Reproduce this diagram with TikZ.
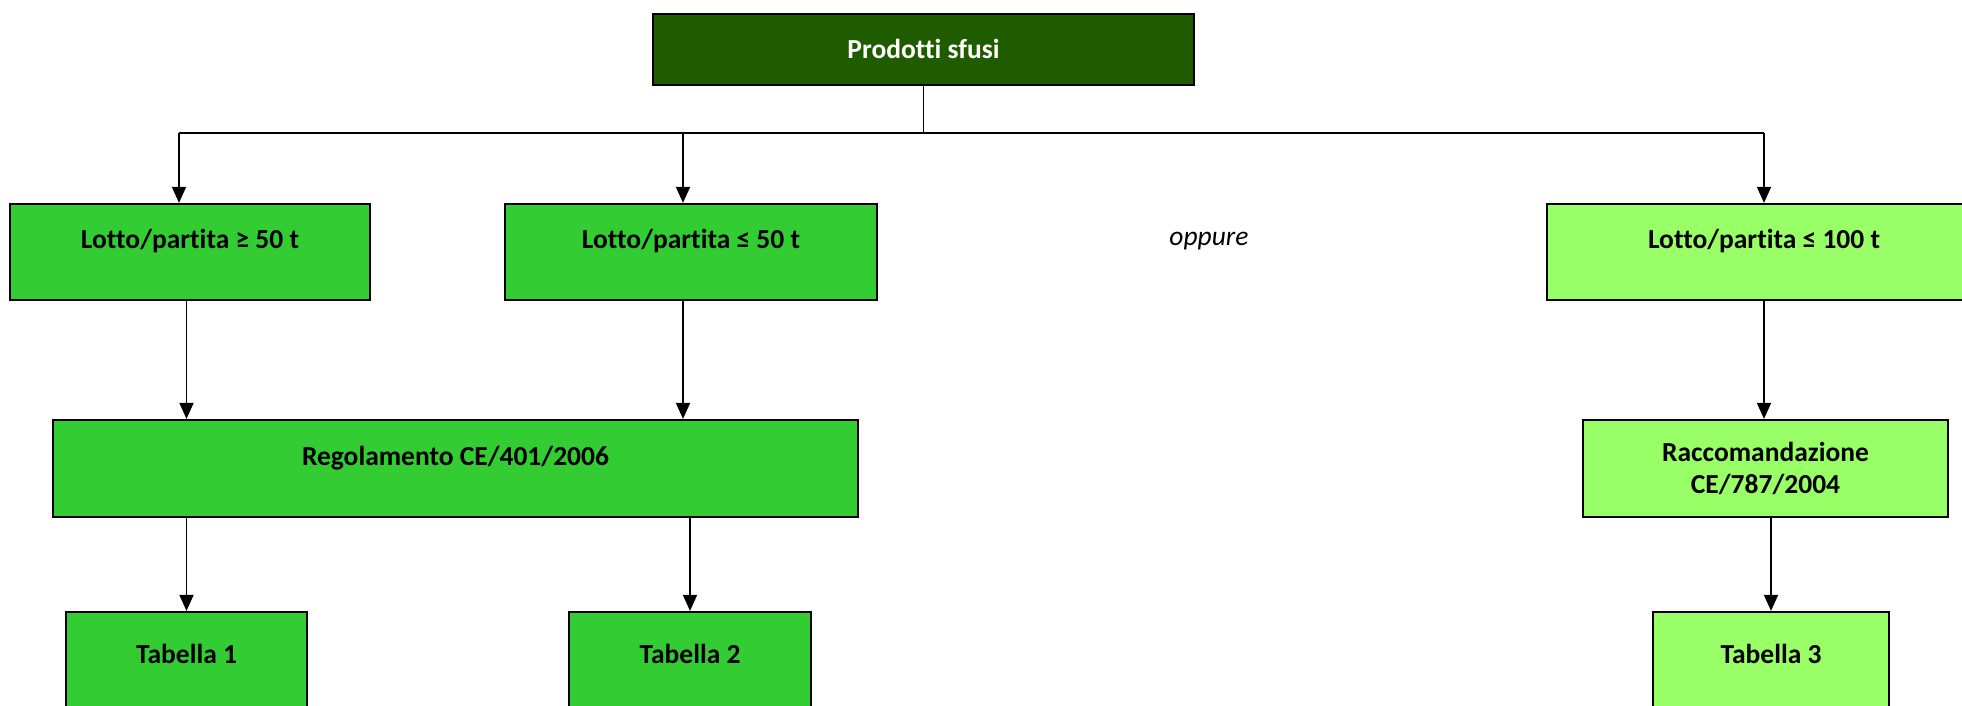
\documentclass[tikz,border=0pt]{standalone}
\usepackage{fontspec}
\setmainfont[Ligatures=NoCommon]{Carlito}
\usepackage{xcolor}
\usepackage{tikz}
\usetikzlibrary{arrows.meta}
\definecolor{darkgreen}{HTML}{1F5C00}
\definecolor{midgreen}{HTML}{33CC33}
\definecolor{lightgreen}{HTML}{99FF66}
\tikzset{
  box/.style={draw=black, line width=2.2pt, font=\fontsize{27.5}{32}\selectfont\bfseries, align=center, inner sep=0pt},
  mid/.style={text height=19pt, text depth=1pt},
  lift/.style={text height=19pt, text depth=26pt},
  conn/.style={draw=black, line width=1.6pt},
  arr/.style={conn, -{Triangle[width=14pt,length=16pt]}},
  lab/.style={font=\fontsize{27.5}{32}\selectfont\itshape},
}
\begin{document}
\begin{tikzpicture}[x=1pt,y=-1pt]
  \useasboundingbox (0,0) rectangle (1962,706);
  \clip (0,0) rectangle (1962,706);

  % boxes
  \node[box, mid, fill=darkgreen, text=white, minimum width=541pt, minimum height=71pt] (top) at (923.5,49.5) {Prodotti sfusi};

  \node[box, lift, fill=midgreen, minimum width=360pt, minimum height=96pt] (lotA) at (190,252) {Lotto/partita ≥ 50 t};
  \node[box, lift, fill=midgreen, minimum width=372pt, minimum height=96pt] (lotB) at (691,252) {Lotto/partita ≤ 50 t};
  \node[lab] (opp) at (1209,241) {oppure};
  \node[box, lift, fill=lightgreen, minimum width=434pt, minimum height=96pt] (lotC) at (1764,252) {Lotto/partita ≤ 100 t};

  \node[box, lift, fill=midgreen, minimum width=805pt, minimum height=97pt] (reg) at (455.5,468.5) {Regolamento CE/401/2006};
  \node[box, fill=lightgreen, minimum width=365pt, minimum height=97pt] (racc) at (1765.5,468.5) {Raccomandazione\\CE/787/2004};

  \node[box, lift, fill=midgreen, minimum width=241pt, minimum height=110pt] (tab1) at (186.5,667) {Tabella 1};
  \node[box, lift, fill=midgreen, minimum width=242pt, minimum height=110pt] (tab2) at (690,667) {Tabella 2};
  \node[box, lift, fill=lightgreen, minimum width=236pt, minimum height=110pt] (tab3) at (1771,667) {Tabella 3};

  % bus under the top box
  \coordinate (j) at (923.5,133);
  \coordinate (jA) at (179,133);
  \coordinate (jB) at (683,133);
  \coordinate (jC) at (1764,133);
  \draw[conn] (top) -- (j);
  \draw[conn] (jA) -- (jC);
  \draw[arr] (jA) -- (jA |- lotA.north);
  \draw[arr] (jB) -- (jB |- lotB.north);
  \draw[arr] (jC) -- (jC |- lotC.north);

  % down to the rules
  \draw[arr] (lotA.south -| tab1) -- (reg.north -| tab1);
  \draw[arr] (lotB.south -| jB) -- (reg.north -| jB);
  \draw[arr] (lotC.south) -- (lotC.south |- racc.north);

  % down to the tables
  \draw[arr] (reg.south -| tab1) -- (tab1);
  \draw[arr] (reg.south -| tab2) -- (tab2);
  \draw[arr] (racc.south -| tab3) -- (tab3);
\end{tikzpicture}
\end{document}
